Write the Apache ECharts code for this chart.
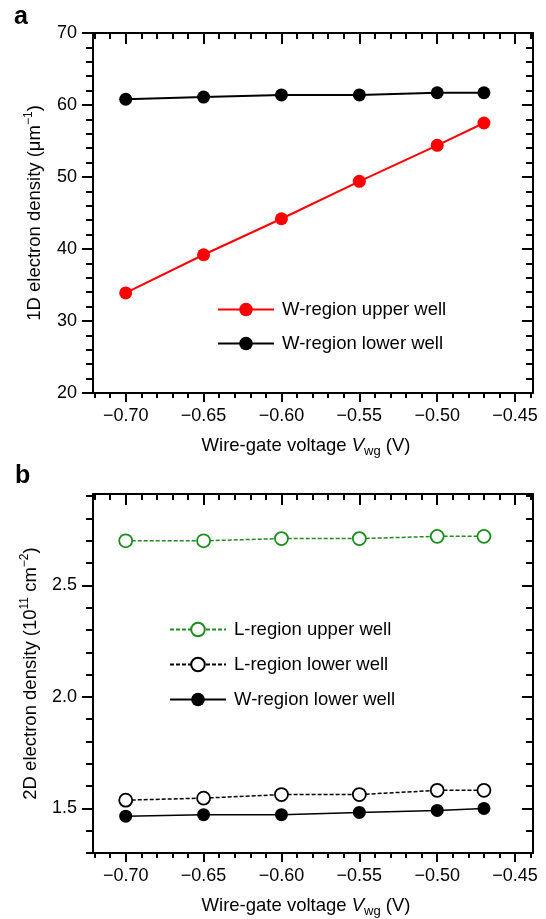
<!DOCTYPE html>
<html>
<head>
<meta charset="utf-8">
<script src="https://cdn.jsdelivr.net/npm/echarts@6/dist/echarts.min.js"></script>
<style>
html,body{margin:0;padding:0;background:#fff;}
#chart{width:546px;height:919px;}
</style>
</head>
<body>
<div id="chart"></div>
<script>
// ---- data ----
var voltages = [-0.70, -0.65, -0.60, -0.55, -0.50, -0.47];
var wUpper1D = [33.9, 39.2, 44.2, 49.4, 54.4, 57.5];
var wLower1D = [60.8, 61.1, 61.4, 61.4, 61.7, 61.7];
var lUpper2D = [2.700, 2.700, 2.710, 2.710, 2.720, 2.720];
var lLower2D = [1.537, 1.546, 1.562, 1.562, 1.581, 1.581];
var wLower2D = [1.465, 1.472, 1.472, 1.482, 1.491, 1.500];

// ---- ticks ----
var xMajor = [-0.70, -0.65, -0.60, -0.55, -0.50, -0.45];
var xMinor = [-0.72, -0.71, -0.69, -0.68, -0.67, -0.66, -0.64, -0.63, -0.62, -0.61,
              -0.59, -0.58, -0.57, -0.56, -0.54, -0.53, -0.52, -0.51, -0.49, -0.48,
              -0.47, -0.46, -0.44];
var yMajorA = [20, 30, 40, 50, 60, 70];
var yMinorA = [22, 24, 26, 28, 32, 34, 36, 38, 42, 44, 46, 48, 52, 54, 56, 58, 62, 64, 66, 68];
var yMajorB = [1.5, 2.0, 2.5];
var yMinorB = [1.3, 1.4, 1.6, 1.7, 1.8, 1.9, 2.1, 2.2, 2.3, 2.4, 2.6, 2.7, 2.8, 2.9];

var FONT = '"Liberation Sans", Arial, Helvetica, sans-serif';
var BLACK = '#000';
var RED = '#ff0000';
var GREEN = '#1e8c1e';
var FS = 18.5;

function pairs(ys) { return voltages.map(function (x, i) { return [x, ys[i]]; }); }
function fmtX(v) { return (v < 0 ? '\u2212' : '') + Math.abs(v).toFixed(2); }

var rich = {
  i: { fontStyle: 'italic', fontSize: FS, fontFamily: FONT, color: BLACK },
  sub: { fontSize: 13, fontFamily: FONT, color: BLACK, padding: [11, 0, 0, 0] },
  sup: { fontSize: 12, fontFamily: FONT, color: BLACK, padding: [0, 0, 11, 0] }
};

function xAxes(grid, min, max) {
  var line = { show: true, onZero: false, lineStyle: { color: BLACK, width: 2 } };
  return [
    { type: 'value', gridIndex: grid, position: 'bottom', min: min, max: max,
      axisLine: line,
      axisTick: { show: true, customValues: xMajor, length: 9, inside: false, lineStyle: { color: BLACK, width: 2 } },
      axisLabel: { show: true, customValues: xMajor, formatter: fmtX, margin: 14, fontSize: 18, fontFamily: FONT, color: BLACK },
      splitLine: { show: false },
      name: 'Wire-gate voltage {i|V}{sub|wg} (V)', nameLocation: 'middle', nameGap: 41,
      nameTextStyle: { fontSize: FS, fontFamily: FONT, color: BLACK, rich: rich, padding: [0, 14, 0, 0] } },
    { type: 'value', gridIndex: grid, position: 'bottom', min: min, max: max,
      axisLine: { show: false, onZero: false },
      axisTick: { show: true, customValues: xMinor, length: 5, inside: false, lineStyle: { color: BLACK, width: 2 } },
      axisLabel: { show: false }, splitLine: { show: false } },
    { type: 'value', gridIndex: grid, position: 'top', min: min, max: max,
      axisLine: line,
      axisTick: { show: true, customValues: xMajor, length: 11, inside: true, lineStyle: { color: BLACK, width: 2 } },
      axisLabel: { show: false }, splitLine: { show: false } },
    { type: 'value', gridIndex: grid, position: 'top', min: min, max: max,
      axisLine: { show: false, onZero: false },
      axisTick: { show: true, customValues: xMinor, length: 6, inside: true, lineStyle: { color: BLACK, width: 2 } },
      axisLabel: { show: false }, splitLine: { show: false } }
  ];
}

function yAxes(grid, min, max, majors, minors, fmt, name, gap) {
  var line = { show: true, onZero: false, lineStyle: { color: BLACK, width: 2 } };
  return [
    { type: 'value', gridIndex: grid, position: 'left', min: min, max: max,
      axisLine: line,
      axisTick: { show: true, customValues: majors, length: 11, inside: false, lineStyle: { color: BLACK, width: 2 } },
      axisLabel: { show: true, customValues: majors, formatter: fmt, margin: 16, fontSize: 18, fontFamily: FONT, color: BLACK },
      splitLine: { show: false },
      name: name, nameLocation: 'middle', nameGap: gap,
      nameTextStyle: { fontSize: FS, fontFamily: FONT, color: BLACK, rich: rich } },
    { type: 'value', gridIndex: grid, position: 'left', min: min, max: max,
      axisLine: { show: false, onZero: false },
      axisTick: { show: true, customValues: minors, length: 7, inside: false, lineStyle: { color: BLACK, width: 2 } },
      axisLabel: { show: false }, splitLine: { show: false } },
    { type: 'value', gridIndex: grid, position: 'right', min: min, max: max,
      axisLine: line,
      axisTick: { show: true, customValues: majors, length: 11, inside: true, lineStyle: { color: BLACK, width: 2 } },
      axisLabel: { show: false }, splitLine: { show: false } },
    { type: 'value', gridIndex: grid, position: 'right', min: min, max: max,
      axisLine: { show: false, onZero: false },
      axisTick: { show: true, customValues: minors, length: 7, inside: true, lineStyle: { color: BLACK, width: 2 } },
      axisLabel: { show: false }, splitLine: { show: false } }
  ];
}

var X_MIN = -0.721, X_MAX = -0.4385;

var legendBase = { orient: 'vertical', padding: 0, itemWidth: 56, itemHeight: 17, itemGap: 15,
  textStyle: { fontSize: FS, fontFamily: FONT, color: BLACK, padding: [0, 0, 0, 3] } };

var option = {
  backgroundColor: '#fff',
  animation: false,
  textStyle: { fontFamily: FONT },
  graphic: [
    { type: 'text', left: 14, top: 5, style: { text: 'a', font: 'bold 25px ' + FONT, fill: BLACK } },
    { type: 'text', left: 15, top: 464, style: { text: 'b', font: 'bold 25px ' + FONT, fill: BLACK } }
  ],
  grid: [
    { left: 93, right: 13, top: 33, height: 360, containLabel: false },
    { left: 93, right: 13, top: 494, height: 364, containLabel: false }
  ],
  xAxis: xAxes(0, X_MIN, X_MAX).concat(xAxes(1, X_MIN, X_MAX)),
  yAxis: yAxes(0, 20, 70, yMajorA, yMinorA, function (v) { return String(v); },
               '1D electron density (\u03bcm{sup|\u22121})', 47)
    .concat(yAxes(1, 1.3, 2.91, yMajorB, yMinorB, function (v) { return v.toFixed(1); },
               '2D electron density (10{sup|11} cm{sup|\u22122})', 51)),
  legend: [
    Object.assign({}, legendBase, { left: 217, top: 300,
      data: ['W-region upper well', 'W-region lower well'] }),
    Object.assign({}, legendBase, { left: 169, top: 620, itemGap: 16,
      data: ['L-region upper well', 'L-region lower well', 'W-region lower well '] })
  ],
  series: [
    { name: 'W-region upper well', type: 'line', xAxisIndex: 0, yAxisIndex: 0,
      data: pairs(wUpper1D), symbol: 'circle', symbolSize: 13,
      itemStyle: { color: RED }, lineStyle: { color: RED, width: 2 } },
    { name: 'W-region lower well', type: 'line', xAxisIndex: 0, yAxisIndex: 0,
      data: pairs(wLower1D), symbol: 'circle', symbolSize: 13,
      itemStyle: { color: BLACK }, lineStyle: { color: BLACK, width: 2 } },
    { name: 'L-region upper well', type: 'line', xAxisIndex: 4, yAxisIndex: 4,
      data: pairs(lUpper2D), symbol: 'circle', symbolSize: 13,
      itemStyle: { color: '#fff', borderColor: GREEN, borderWidth: 1.8 },
      lineStyle: { color: GREEN, width: 1.5, type: [4, 2] } },
    { name: 'L-region lower well', type: 'line', xAxisIndex: 4, yAxisIndex: 4,
      data: pairs(lLower2D), symbol: 'circle', symbolSize: 13,
      itemStyle: { color: '#fff', borderColor: BLACK, borderWidth: 1.8 },
      lineStyle: { color: BLACK, width: 1.5, type: [4, 2] } },
    { name: 'W-region lower well ', type: 'line', xAxisIndex: 4, yAxisIndex: 4,
      data: pairs(wLower2D), symbol: 'circle', symbolSize: 13,
      itemStyle: { color: BLACK }, lineStyle: { color: BLACK, width: 1.5 } }
  ]
};

var chart = echarts.init(document.getElementById('chart'), null, { renderer: 'canvas' });
chart.setOption(option);
</script>
</body>
</html>
